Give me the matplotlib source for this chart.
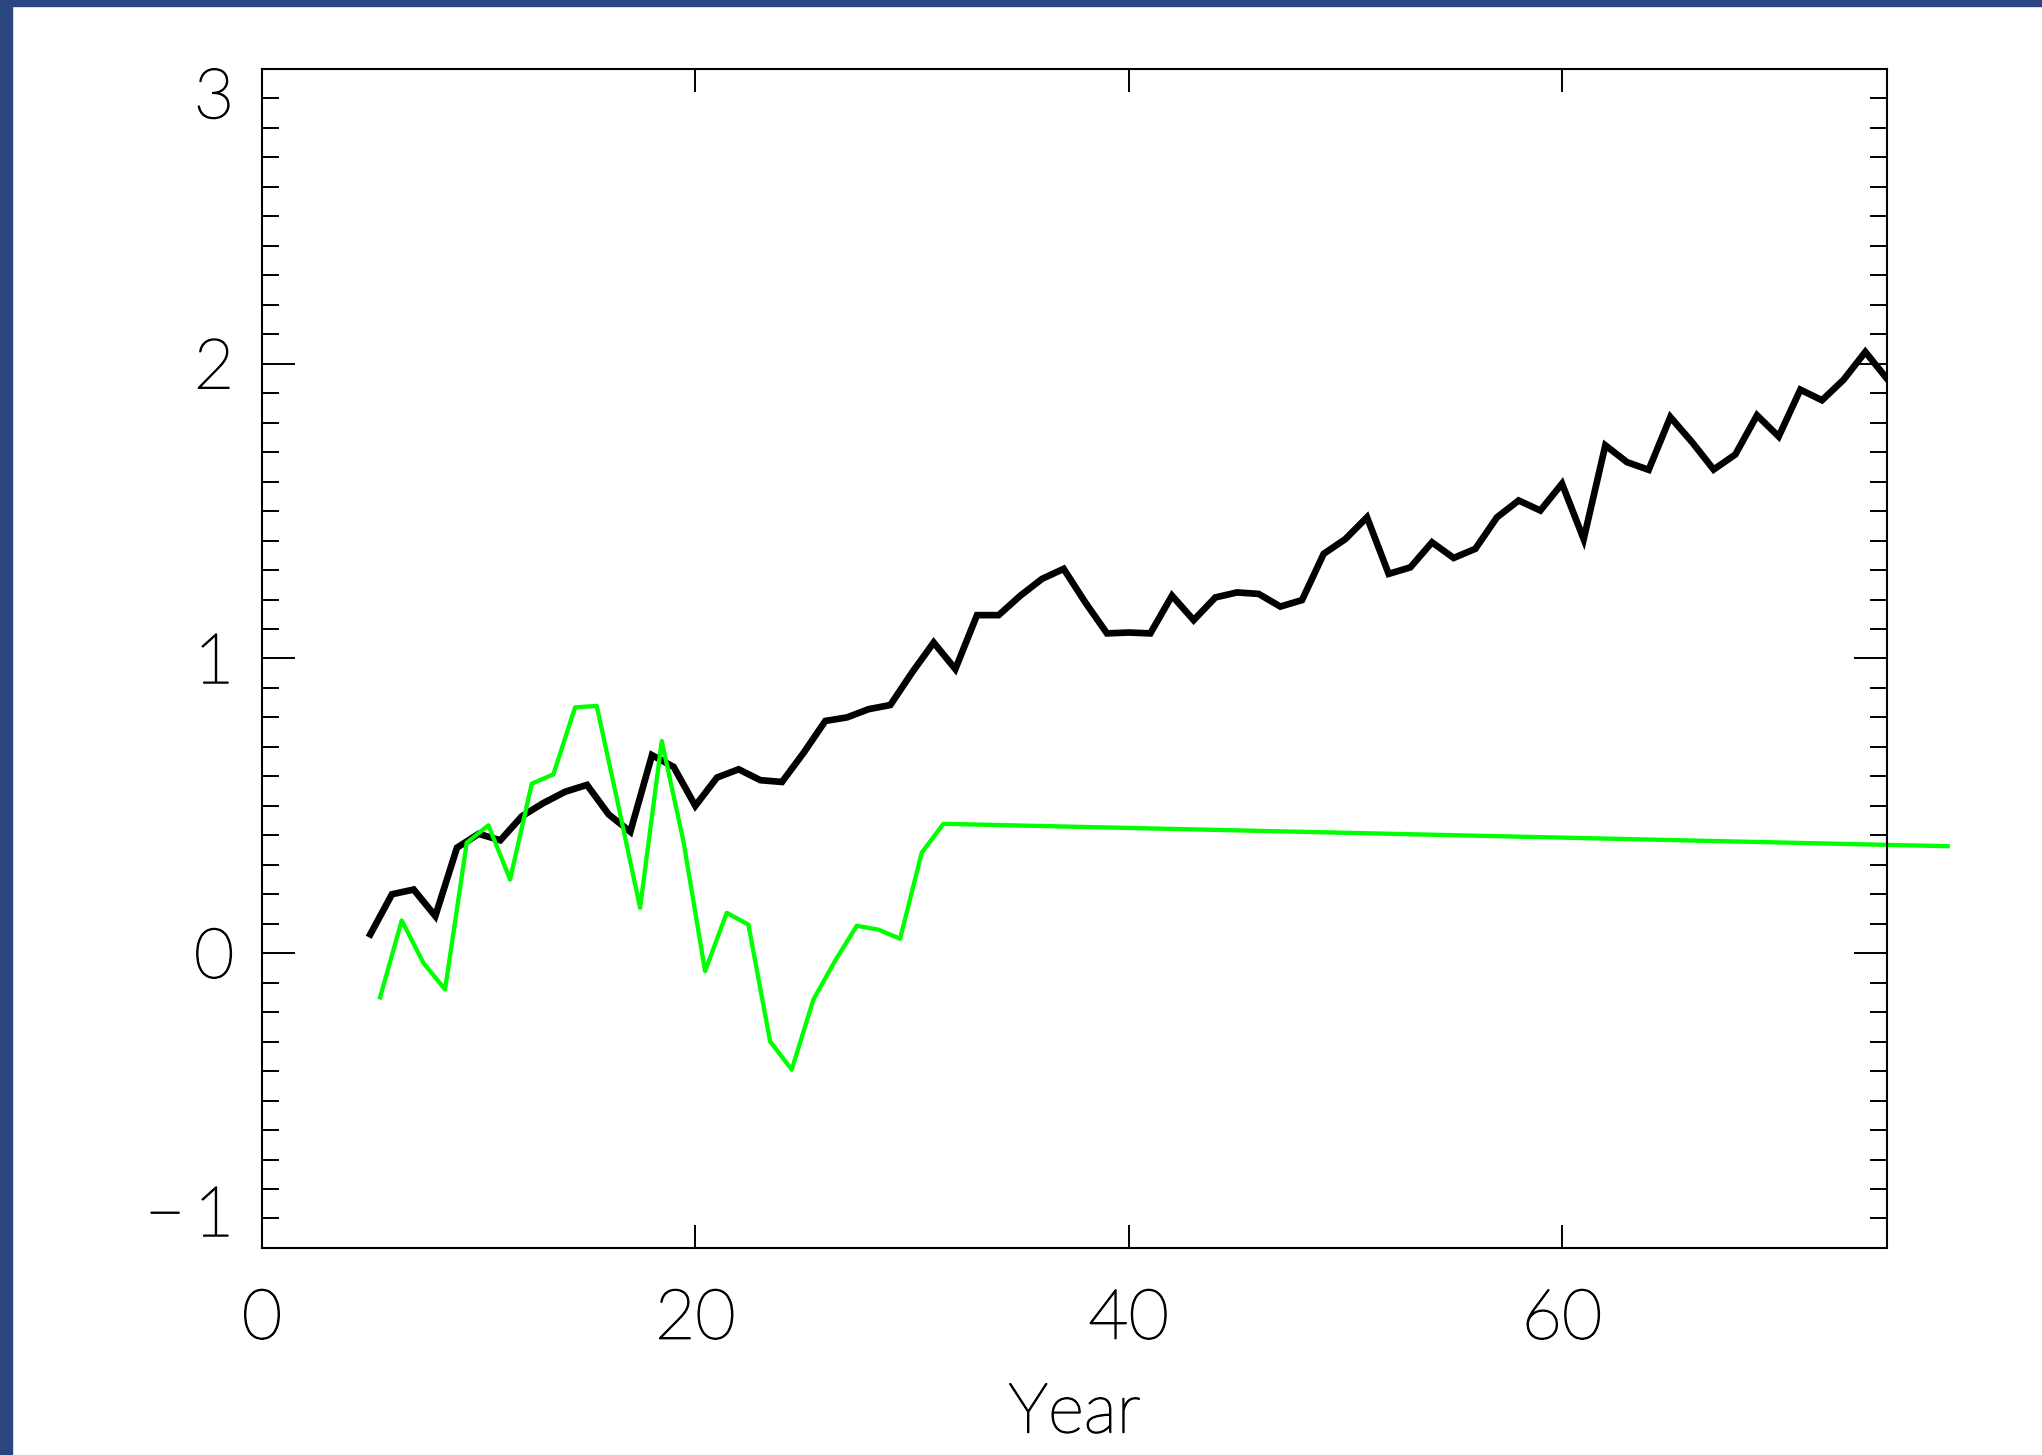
import numpy as np
import matplotlib.pyplot as plt
import matplotlib.patheffects as pe
from matplotlib.patches import Rectangle

# black series, one value per year 5..75
black_years = np.arange(5, 76)
black_vals = [0.064, 0.20, 0.216, 0.126, 0.358, 0.405, 0.383, 0.465, 0.51, 0.548,
              0.571, 0.471, 0.412, 0.672, 0.632, 0.50, 0.596, 0.624, 0.587, 0.581,
              0.68, 0.788, 0.80, 0.828, 0.842, 0.952, 1.054, 0.964, 1.147, 1.147,
              1.213, 1.27, 1.304, 1.19, 1.085, 1.088, 1.085, 1.213, 1.13, 1.207,
              1.224, 1.219, 1.176, 1.198, 1.355, 1.405, 1.479, 1.287, 1.309, 1.394,
              1.341, 1.372, 1.479, 1.536, 1.502, 1.593, 1.405, 1.723, 1.666, 1.64,
              1.819, 1.734, 1.641, 1.692, 1.825, 1.753, 1.912, 1.876, 1.946, 2.04,
              1.949]

# green series (half-year offset), last point runs past the axis
green_years = [5.45, 6.45, 7.45, 8.45, 9.45, 10.45, 11.45, 12.45, 13.45, 14.45,
               15.45, 16.45, 17.45, 18.45, 19.45, 20.45, 21.45, 22.45, 23.45, 24.45,
               25.45, 26.45, 27.45, 28.45, 29.45, 30.45, 31.45, 77.8]
green_vals = [-0.15, 0.111, -0.033, -0.123, 0.375, 0.434, 0.25, 0.575, 0.607, 0.834,
              0.839, 0.50, 0.154, 0.72, 0.38, -0.061, 0.137, 0.097, -0.299, -0.395,
              -0.157, -0.026, 0.093, 0.08, 0.049, 0.341, 0.439, 0.363]

xticks = [0, 20, 40, 60]
yticks = [-1, 0, 1, 2, 3]
ylabels = ['\u2212\u20091', '0', '1', '2', '3']

plt.rcParams['font.family'] = ['Lato', 'DejaVu Sans']
plt.rcParams['font.weight'] = 'light'
plt.rcParams['axes.labelweight'] = 'light'

thick = [pe.withStroke(linewidth=1.1, foreground='black')]

fig = plt.figure(figsize=(20.42, 14.55), dpi=100)
ax = fig.add_axes([0.1283, 0.1423, 0.9241 - 0.1283, 0.9526 - 0.1423])

ax.plot(black_years, black_vals, color='black', lw=4.8, solid_joinstyle='miter')
ax.plot(green_years, green_vals, color='#00ff00', lw=3.1, clip_on=False)

ax.set_xlim(0, 75)
ax.set_ylim(-1, 3)
ax.set_xticks(xticks)
ax.set_yticks(yticks)
ax.set_yticks(np.arange(-1, 3.01, 0.1), minor=True)
ax.set_yticklabels(ylabels)

for s in ax.spines.values():
    s.set_linewidth(1.5)

ax.tick_params(axis='x', which='major', direction='in', top=True, length=16.6,
               width=1.4, pad=30, labelsize=50)
ax.tick_params(axis='y', which='major', direction='in', right=True, length=23.8,
               width=1.4, pad=20, labelsize=50)
ax.tick_params(axis='y', which='minor', direction='in', right=True, length=12.2,
               width=1.4)

labs = ax.get_yticklabels()
labs[0].set_va('bottom')
labs[-1].set_va('top')
for t in ax.get_xticklabels() + labs:
    t.set_path_effects(thick)

ax.set_xlabel('Year', fontsize=50, fontweight='light')
ax.xaxis.set_label_coords(0.5, -0.1565)
ax.xaxis.label.set_va('baseline')
ax.xaxis.label.set_path_effects(thick)

# blue frame strips on left and top
fig.patches.append(Rectangle((0, 0), 12 / 2042, 1, transform=fig.transFigure,
                             color='#2a4680', zorder=10))
fig.patches.append(Rectangle((0, 1 - 6 / 1455), 1, 6 / 1455, transform=fig.transFigure,
                             color='#2a4680', zorder=10))

fig.savefig('out.png', dpi=100)
